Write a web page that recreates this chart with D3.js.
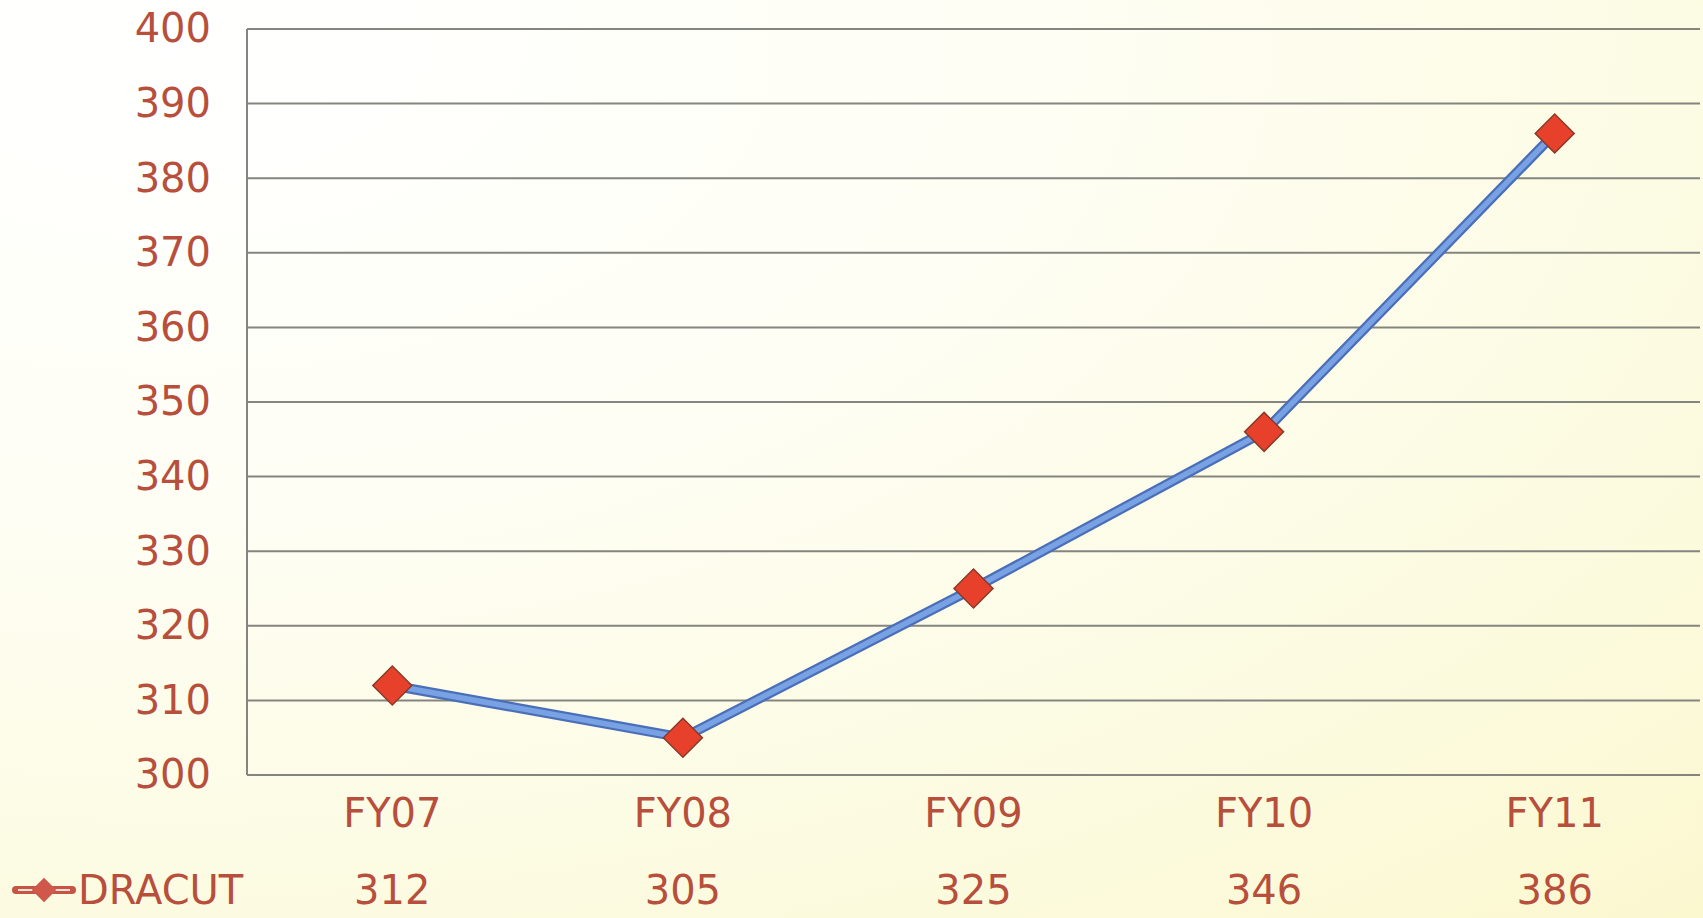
<!DOCTYPE html>
<html>
<head>
<meta charset="utf-8">
<script src="https://cdn.jsdelivr.net/npm/d3@7"></script>
<style>
  html, body { margin: 0; padding: 0; overflow: hidden; }
  svg { display: block; }
  text { font-family: "DejaVu Sans", sans-serif; }
</style>
</head>
<body>
<svg id="chart" width="1703" height="918"></svg>
<script>
// Enrollment by fiscal year
const categories = ["FY07", "FY08", "FY09", "FY10", "FY11"];
const seriesName = "DRACUT";
const values = [312, 305, 325, 346, 386];
const yTicks = [300, 310, 320, 330, 340, 350, 360, 370, 380, 390, 400];

const W = 1703, H = 918;
const margin = { left: 247, right: 3, top: 29, bottom: 143 };
const labelColor = "#b74f3c";

const svg = d3.select("#chart");

// warm paper background
const defs = svg.append("defs");
const bg = defs.append("radialGradient").attr("id", "bg")
  .attr("cx", "10%").attr("cy", "5%").attr("r", "130%");
bg.append("stop").attr("offset", "0%").attr("stop-color", "#ffffff");
bg.append("stop").attr("offset", "40%").attr("stop-color", "#fefef4");
bg.append("stop").attr("offset", "75%").attr("stop-color", "#fcfbe0");
bg.append("stop").attr("offset", "100%").attr("stop-color", "#fbf8d0");
svg.append("rect").attr("width", W).attr("height", H).attr("fill", "url(#bg)");

const x = d3.scaleBand().domain(categories)
  .range([margin.left, W - margin.right]).padding(0);
const y = d3.scaleLinear().domain([300, 400])
  .range([H - margin.bottom, margin.top]);

// horizontal gridlines
svg.append("g")
  .selectAll("line").data(yTicks).join("line")
  .attr("x1", margin.left).attr("x2", W - margin.right)
  .attr("y1", d => y(d)).attr("y2", d => y(d))
  .attr("stroke", "#858580").attr("stroke-width", 2);

// left axis line
svg.append("line")
  .attr("x1", margin.left).attr("x2", margin.left)
  .attr("y1", y(400)).attr("y2", y(300))
  .attr("stroke", "#858580").attr("stroke-width", 2);

// y axis labels
const yAxis = d3.axisLeft(y).tickValues(yTicks).tickSize(0).tickPadding(36);
const gy = svg.append("g").attr("transform", `translate(${margin.left},0)`).call(yAxis);
gy.select(".domain").remove();
gy.selectAll("text")
  .attr("fill", labelColor)
  .style("font-size", "40px")
  .style("font-family", "'DejaVu Sans', sans-serif");

// x axis labels
const xAxis = d3.axisBottom(x).tickSize(0).tickPadding(24);
const gx = svg.append("g").attr("transform", `translate(0,${y(300)})`).call(xAxis);
gx.select(".domain").remove();
gx.selectAll("text")
  .attr("fill", labelColor)
  .style("font-size", "40px")
  .style("font-family", "'DejaVu Sans', sans-serif");

// series line
const line = d3.line()
  .x((d, i) => x(categories[i]) + x.bandwidth() / 2)
  .y(d => y(d));
svg.append("path").datum(values)
  .attr("d", line).attr("fill", "none")
  .attr("stroke", "#4a6fb8").attr("stroke-width", 10)
  .attr("stroke-linejoin", "round");
svg.append("path").datum(values)
  .attr("d", line).attr("fill", "none")
  .attr("stroke", "#78a2e4").attr("stroke-width", 5.5)
  .attr("stroke-linejoin", "round");

// diamond markers
const diamond = d3.symbol().type(d3.symbolSquare).size(760);
svg.append("g").selectAll("path").data(values).join("path")
  .attr("d", diamond)
  .attr("transform", (d, i) =>
    `translate(${x(categories[i]) + x.bandwidth() / 2},${y(d)}) rotate(45)`)
  .attr("fill", "#e8412b")
  .attr("stroke", "#8a3a2a").attr("stroke-width", 1.5);

// data table row
const rowY = 890;
svg.append("g").selectAll("text").data(values).join("text")
  .attr("x", (d, i) => x(categories[i]) + x.bandwidth() / 2)
  .attr("y", rowY)
  .attr("text-anchor", "middle").attr("dominant-baseline", "central")
  .attr("fill", labelColor).style("font-size", "40px")
  .text(d => d);

// legend key in the table row
const key = svg.append("g");
key.append("line").attr("x1", 16).attr("x2", 72).attr("y1", rowY).attr("y2", rowY)
  .attr("stroke", "#c75545").attr("stroke-width", 8).attr("stroke-linecap", "round");
key.append("line").attr("x1", 18).attr("x2", 70).attr("y1", rowY).attr("y2", rowY)
  .attr("stroke", "#f5e0d6").attr("stroke-width", 2);
key.append("path")
  .attr("d", d3.symbol().type(d3.symbolSquare).size(300))
  .attr("transform", `translate(44,${rowY}) rotate(45)`)
  .attr("fill", "#d0584a");
key.append("text")
  .attr("x", 78).attr("y", rowY)
  .attr("dominant-baseline", "central")
  .attr("fill", labelColor).style("font-size", "40px")
  .text(seriesName);
</script>
</body>
</html>
